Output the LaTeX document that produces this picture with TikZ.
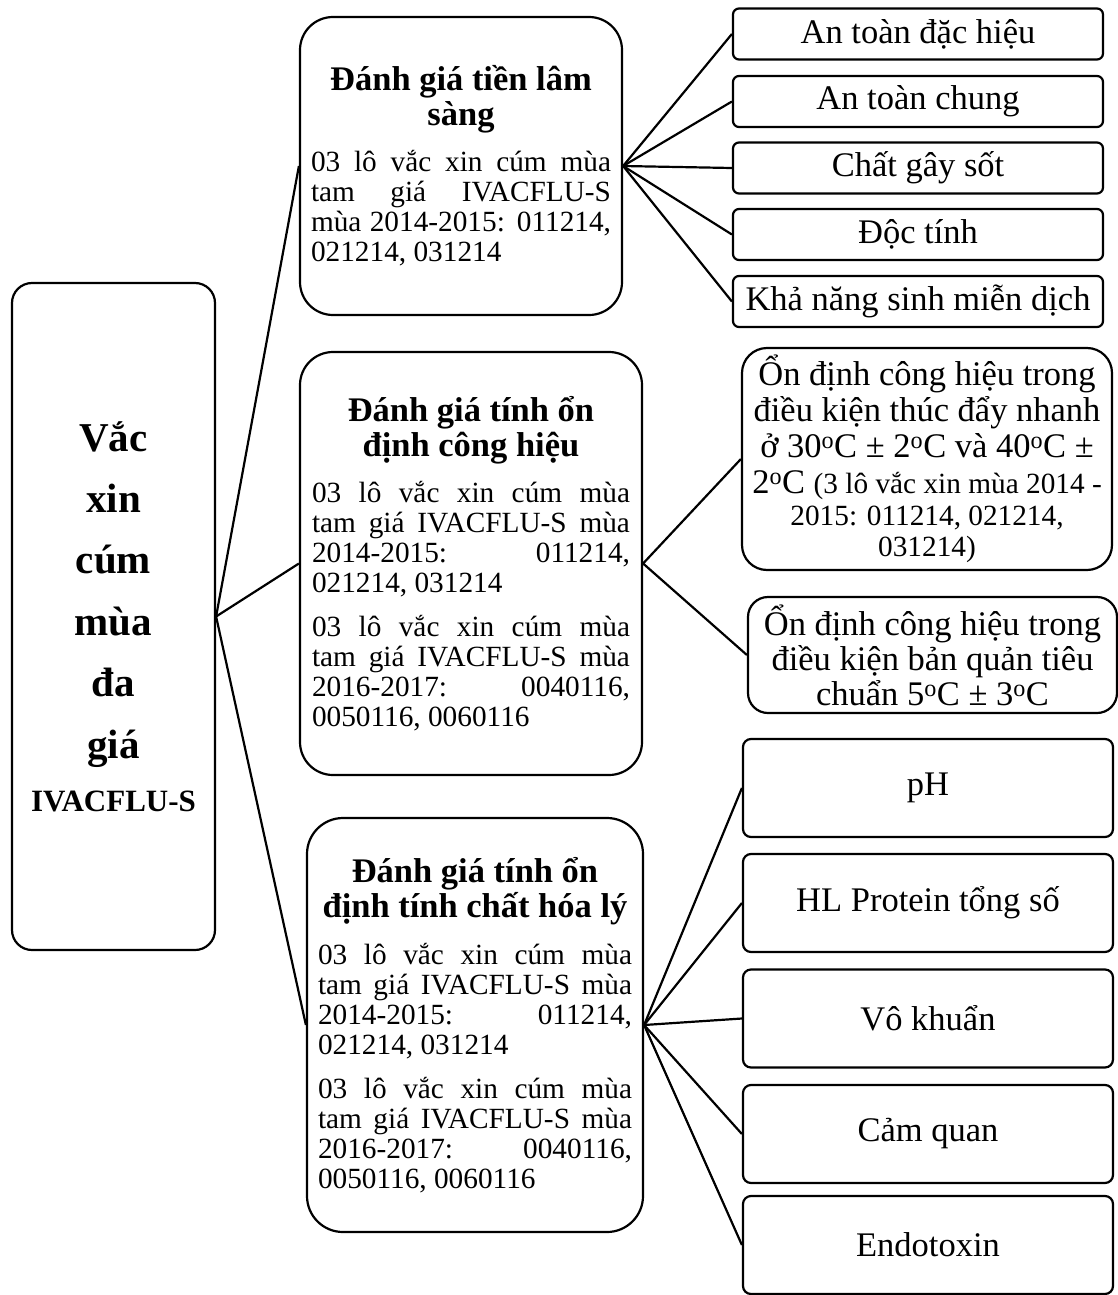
\documentclass[tikz,border=0pt]{standalone}
\usepackage{fontspec}
\setmainfont{Liberation Serif}
\setlength{\parindent}{0pt}
\hyphenpenalty=10000
\newcommand\myTitle{\fontsize{34.5}{35}\selectfont\bfseries}
\newcommand\myBody{\fontsize{29.3}{30}\selectfont}
\newcommand\myRight{\fontsize{34.5}{36}\selectfont}
\newcommand\myRoot{\fontsize{41}{61.4}\selectfont\bfseries}
\newcommand\dg{\textsuperscript{o}}
\begin{document}
\begin{tikzpicture}[x=1pt,y=-1pt,
  every node/.style={inner sep=0pt},
  bx/.style={draw, rectangle, line width=2.2pt, rounded corners=#1},
  bx/.default=6pt,
  conn/.style={line width=2.2pt},
  leaf/.style={bx=6pt, minimum width=370pt, minimum height=51pt, font=\myRight},
  eleaf/.style={bx=8pt, minimum width=370pt, minimum height=98pt, font=\myRight}
]
\useasboundingbox (0,0) rectangle (1118,1295);

% root
\node[bx=20pt, minimum width=203pt, minimum height=667pt] (root) at (113.5,616.5)
  {\begin{minipage}{190pt}\centering\myRoot Vắc\\ xin\\ cúm\\ mùa\\ đa\\ giá\par\fontsize{31}{53}\selectfont IVACFLU-S\end{minipage}};

% second level
\node[bx=33pt, minimum width=322pt, minimum height=298pt, text width=300pt, align=justify] (A) at (461,166)
  {{\myTitle\centering Đánh giá tiền lâm\\ sàng\par}\vspace{16pt}{\myBody 03 lô vắc xin cúm mùa\linebreak tam giá IVACFLU-S\linebreak mùa 2014-2015: 011214,\linebreak 021214, 031214\par}};

\node[bx=33pt, minimum width=342pt, minimum height=423pt, text width=318pt, align=justify] (B) at (471,563.5)
  {{\myTitle\centering Đánh giá tính ổn\\ định công hiệu\par}\vspace{16pt}{\myBody 03 lô vắc xin cúm mùa\linebreak tam giá IVACFLU-S mùa\linebreak 2014-2015: 011214,\linebreak 021214, 031214\par}\vspace{14pt}{\myBody 03 lô vắc xin cúm mùa\linebreak tam giá IVACFLU-S mùa\linebreak 2016-2017: 0040116,\linebreak 0050116, 0060116\par}};

\node[bx=36pt, minimum width=336pt, minimum height=414pt, text width=314pt, align=justify] (D) at (475,1025)
  {{\myTitle\centering Đánh giá tính ổn\\ định tính chất hóa lý\par}\vspace{17pt}{\myBody 03 lô vắc xin cúm mùa\linebreak tam giá IVACFLU-S mùa\linebreak 2014-2015: 011214,\linebreak 021214, 031214\par}\vspace{14pt}{\myBody 03 lô vắc xin cúm mùa\linebreak tam giá IVACFLU-S mùa\linebreak 2016-2017: 0040116,\linebreak 0050116, 0060116\par}};

% leaves of A
\node[leaf] (T1) at (918,34) {An toàn đặc hiệu};
\node[leaf] (T2) at (918,101.5) {An toàn chung};
\node[leaf] (T3) at (918,168) {Chất gây sốt};
\node[leaf] (T4) at (918,234.5) {Độc tính};
\node[leaf] (T5) at (918,301.5) {Khả năng sinh miễn dịch};

% leaves of B
\node[bx=25pt, minimum width=370pt, minimum height=222pt] (C1) at (927,459)
  {\begin{minipage}{364pt}\centering\myRight Ổn định công hiệu trong\\ điều kiện thúc đẩy nhanh\\ ở 30\dg C ± 2\dg C và 40\dg C ±\\ 2\dg C {\myBody(3 lô vắc xin mùa 2014 -}\par\myBody\baselineskip=31.5pt 2015: 011214, 021214,\\ 031214)\end{minipage}};
\node[bx=20pt, minimum width=369pt, minimum height=116pt] (C2) at (932.5,655)
  {\begin{minipage}{364pt}\centering\myRight\baselineskip=35pt Ổn định công hiệu trong\\ điều kiện bản quản tiêu\\ chuẩn 5\dg C ± 3\dg C\end{minipage}};

% leaves of D
\node[eleaf] (E1) at (928,788) {pH};
\node[eleaf] (E2) at (928,903) {HL Protein tổng số};
\node[eleaf] (E3) at (928,1018.5) {Vô khuẩn};
\node[eleaf] (E4) at (928,1134) {Cảm quan};
\node[eleaf] (E5) at (928,1245) {Endotoxin};

% connectors
\draw[conn] (root.east) -- (A.west);
\draw[conn] (root.east) -- (B.west);
\draw[conn] (root.east) -- (D.west);
\foreach \t in {T1,T2,T3,T4,T5} \draw[conn] (A.east) -- (\t.west);
\draw[conn] (B.east) -- (C1.west);
\draw[conn] (B.east) -- (C2.west);
\foreach \t in {E1,E2,E3,E4,E5} \draw[conn] (D.east) -- (\t.west);
\end{tikzpicture}
\end{document}
